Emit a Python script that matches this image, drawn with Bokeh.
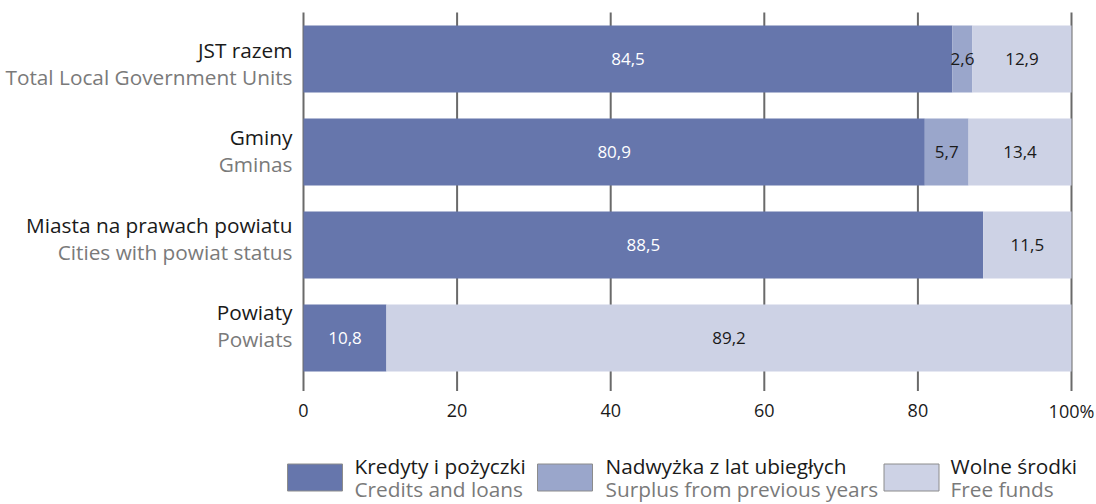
from bokeh.plotting import figure
from bokeh.models import Range1d, ColumnDataSource
from bokeh.embed import file_html
from bokeh.resources import INLINE
from bokeh.core.properties import value

# ---- data ----
categories_pl = ["JST razem", "Gminy", "Miasta na prawach powiatu", "Powiaty"]
categories_en = ["Total Local Government Units", "Gminas", "Cities with powiat status", "Powiats"]
credits = [84.5, 80.9, 88.5, 10.8]
surplus = [2.6, 5.7, 0.0, 0.0]
free_funds = [12.9, 13.4, 11.5, 89.2]
series_pl = ["Kredyty i pożyczki", "Nadwyżka z lat ubiegłych", "Wolne środki"]
series_en = ["Credits and loans", "Surplus from previous years", "Free funds"]
x_ticks = [0, 20, 40, 60, 80, 100]
x_tick_labels = ["0", "20", "40", "60", "80", "100%"]

# ---- style ----
FONT = "Open Sans"
BIG = "20.8px"
COLORS = ["#6676AC", "#9AA6CB", "#CDD2E5"]
TEXT_COLORS = ["white", "#1a1a1a", "#1a1a1a"]
GRID = "#6a6a6a"
BLACK = "#1a1a1a"
GRAY = "#7a7a7a"

W, H = 1096, 504
PX_PER_UNIT = 7.68        # x: 100 % = 768 px
X0 = 303                  # px of 0 %
BAR_PITCH = 93            # px between bar centres
Y0 = 58.5                 # px of first bar centre (from top)

n = len(categories_pl)
ys = list(range(n))

p = figure(width=W, height=H,
           x_range=Range1d(-X0 / PX_PER_UNIT, (W - X0) / PX_PER_UNIT),
           y_range=Range1d((H - Y0) / BAR_PITCH, -Y0 / BAR_PITCH),
           output_backend="svg", toolbar_location=None,
           min_border=0, min_border_left=0, min_border_right=0,
           min_border_top=0, min_border_bottom=0)
# pixel-space ranges for layout items (labels, legend)
p.extra_x_ranges = {"px": Range1d(0, W)}
p.extra_y_ranges = {"px": Range1d(H, 0)}
p.axis.visible = False
p.grid.visible = False
p.outline_line_color = None

# grid lines / ticks
p.segment(x0=x_ticks, x1=x_ticks, y0=-0.5, y1=3.57, line_color=GRID, line_width=2)
p.text(x=x_ticks, y=3.78, text=x_tick_labels, text_align="center", text_baseline="middle",
       text_font=value(FONT), text_font_size="18px", text_color=BLACK)

series = [credits, surplus, free_funds]
lefts = [0.0] * n
label_x, label_y, label_t, label_c = [], [], [], []
for k, vals in enumerate(series):
    rights = [l + v for l, v in zip(lefts, vals)]
    p.hbar(y=ys, left=lefts, right=rights, height=0.72, fill_color=COLORS[k], line_color=None)
    for i in range(n):
        if vals[i] > 0:
            label_x.append((lefts[i] + rights[i]) / 2)
            label_y.append(ys[i])
            label_t.append(f"{vals[i]:.1f}".replace(".", ","))
            label_c.append(TEXT_COLORS[k])
    lefts = rights

src = ColumnDataSource(dict(x=label_x, y=label_y, t=label_t, c=label_c))
p.text(x="x", y="y", text="t", text_color="c", source=src, text_align="center",
       text_baseline="middle", text_font=value(FONT), text_font_size="17px")

# category labels (two lines, pixel layout)
main_y = [49 + 87.5 * i for i in range(n)]
sub_y = [y + 27 for y in main_y]
p.text(x=292, y=main_y, text=categories_pl, text_align="right", text_baseline="middle",
       text_font=value(FONT), text_font_size=BIG, text_color=BLACK,
       x_range_name="px", y_range_name="px")
p.text(x=292, y=sub_y, text=categories_en, text_align="right", text_baseline="middle",
       text_font=value(FONT), text_font_size=BIG, text_color=GRAY,
       x_range_name="px", y_range_name="px")

# legend (pixel layout)
sw_x = [314.5, 564.5, 911]
tx_x = [354, 605, 950]
p.rect(x=sw_x, y=477, width=55, height=27, fill_color=COLORS, line_color="#8c8c8c",
       line_width=1, x_range_name="px", y_range_name="px")
p.text(x=tx_x, y=465, text=series_pl, text_align="left", text_baseline="middle",
       text_font=value(FONT), text_font_size=BIG, text_color=BLACK,
       x_range_name="px", y_range_name="px")
p.text(x=tx_x, y=488, text=series_en, text_align="left", text_baseline="middle",
       text_font=value(FONT), text_font_size=BIG, text_color=GRAY,
       x_range_name="px", y_range_name="px")

open("out.html", "w").write(file_html(p, INLINE))
